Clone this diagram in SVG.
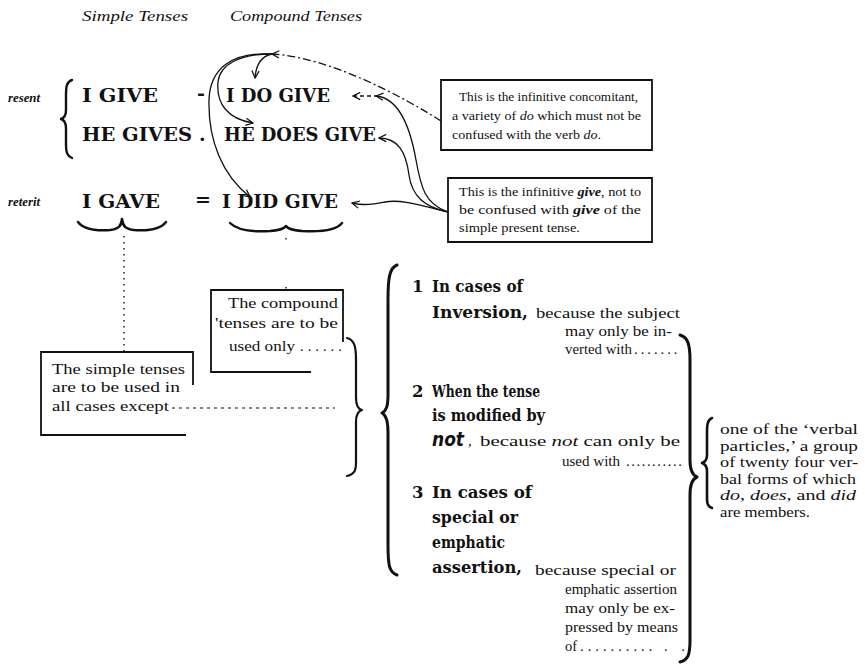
<svg xmlns="http://www.w3.org/2000/svg" width="865" height="664" viewBox="0 0 865 664">
  <defs>
    <marker id="tip" viewBox="0 0 10 10" refX="9" refY="5" markerWidth="9" markerHeight="9" markerUnits="userSpaceOnUse" orient="auto">
      <path d="M1,1 L9,5 L1,9" fill="none" stroke="#111" stroke-width="1.4"/>
    </marker>
  </defs>
  <style>
    .hand { font-family: "Liberation Serif", serif; font-style: italic; font-size: 15px; fill: #111; }
    .tag { font-family: "Liberation Serif", serif; font-style: italic; font-weight: bold; font-size: 12px; fill: #111; }
    .head { font-family: "DejaVu Serif", serif; font-weight: bold; font-size: 19px; fill: #111; }
    .item { font-family: "DejaVu Serif", serif; font-weight: bold; font-size: 16.5px; fill: #111; }
    .small { font-family: "Liberation Serif", serif; font-size: 14.5px; fill: #111; }
    .boxed { font-family: "Liberation Serif", serif; font-size: 13.5px; fill: #111; }
    .neg { font-family: "DejaVu Sans", sans-serif; font-style: italic; font-weight: bold; font-size: 19px; fill: #111; }
    .brace { fill: none; stroke: #111; stroke-linecap: round; stroke-linejoin: round; }
    .frame { fill: none; stroke: #111; stroke-width: 1.8; }
    .link { fill: none; stroke: #111; stroke-width: 1.3; marker-end: url(#tip); }
    .dots { fill: none; stroke: #111; stroke-width: 1.4; stroke-dasharray: 1.5 4.5; }
    .dash { fill: none; stroke: #111; stroke-width: 1.2; stroke-dasharray: 3 4; }
  </style>

  <rect width="865" height="664" fill="#fff"/>

  <!-- column headings -->
  <g id="headings">
    <text class="hand" x="82" y="21" textLength="106" lengthAdjust="spacingAndGlyphs">Simple Tenses</text>
    <text class="hand" x="230" y="21" textLength="132" lengthAdjust="spacingAndGlyphs">Compound Tenses</text>
  </g>

  <!-- present tense rows -->
  <g id="present">
    <text class="tag" x="8" y="102" textLength="32" lengthAdjust="spacingAndGlyphs">resent</text>
    <path class="brace" stroke-width="2.4" d="M72,80 C66,82 66,88 66,96 L66,110 C66,116 64,118 61,119 C64,120 66,122 66,128 L66,145 C66,152 67,156 72,158"/>
    <text class="head" x="82" y="102" textLength="76" lengthAdjust="spacingAndGlyphs">I GIVE</text>
    <text class="head" x="197" y="100" font-size="12">-</text>
    <text class="head" x="226" y="102" textLength="104" lengthAdjust="spacingAndGlyphs">I DO GIVE</text>
    <text class="head" x="82" y="141" textLength="110" lengthAdjust="spacingAndGlyphs">HE GIVES</text>
    <text class="head" x="199" y="141" font-size="12">.</text>
    <text class="head" x="224" y="141" textLength="152" lengthAdjust="spacingAndGlyphs">HE DOES GIVE</text>
  </g>

  <!-- preterit row -->
  <g id="preterit">
    <text class="tag" x="8" y="206" textLength="32" lengthAdjust="spacingAndGlyphs">reterit</text>
    <text class="head" x="82" y="208" textLength="78" lengthAdjust="spacingAndGlyphs">I GAVE</text>
    <text class="head" x="195" y="206" font-size="11">=</text>
    <text class="head" x="222" y="208" textLength="116" lengthAdjust="spacingAndGlyphs">I DID GIVE</text>
    <path class="brace" stroke-width="2.6" d="M78,222 C84,230 96,231 110,230 C118,229 121,227 122,219 C123,227 126,229 134,230 C148,231 160,230 166,222"/>
    <path class="brace" stroke-width="2.4" d="M230,223 C238,231 254,232 270,231 C280,230 284,229 286,226 C288,229 292,230 302,231 C320,232 336,231 342,223"/>
  </g>

  <!-- note on "do" -->
  <g id="note-do">
    <path class="frame" d="M441,80 H652 V150 H441 Z"/>
    <text class="boxed" x="459" y="101" textLength="179" lengthAdjust="spacingAndGlyphs">This is the infinitive concomitant,</text>
    <text class="boxed" x="452" y="120" textLength="189" lengthAdjust="spacingAndGlyphs">a variety of <tspan font-style="italic">do</tspan> which must not be</text>
    <text class="boxed" x="452" y="139" textLength="149" lengthAdjust="spacingAndGlyphs">confused with the verb <tspan font-style="italic">do</tspan>.</text>
  </g>

  <!-- note on "give" -->
  <g id="note-give">
    <path class="frame" d="M448,178 H652 V242 H448 Z"/>
    <text class="boxed" x="459" y="196" textLength="182" lengthAdjust="spacingAndGlyphs">This is the infinitive <tspan font-style="italic" font-weight="bold">give</tspan>, not to</text>
    <text class="boxed" x="459" y="214" textLength="182" lengthAdjust="spacingAndGlyphs">be confused with <tspan font-style="italic" font-weight="bold">give</tspan> of the</text>
    <text class="boxed" x="459" y="232" textLength="121" lengthAdjust="spacingAndGlyphs">simple present tense.</text>
  </g>

  <!-- usage of compound tenses -->
  <g id="compound-use">
    <path class="frame" d="M311,372 H211 V290 H343 V342"/>
    <text class="small" x="228" y="308" textLength="110" lengthAdjust="spacingAndGlyphs">The compound</text>
    <text class="small" x="215" y="328" textLength="123" lengthAdjust="spacingAndGlyphs">'tenses are to be</text>
    <text class="small" x="229" y="351"><tspan textLength="66" lengthAdjust="spacingAndGlyphs">used only</tspan><tspan x="300" letter-spacing="4">......</tspan></text>
  </g>

  <!-- usage of simple tenses -->
  <g id="simple-use">
    <path class="frame" d="M193,385 V352 H41 V435 H186"/>
    <text class="small" x="52" y="374" textLength="133" lengthAdjust="spacingAndGlyphs">The simple tenses</text>
    <text class="small" x="52" y="392" textLength="128" lengthAdjust="spacingAndGlyphs">are to be used in</text>
    <text class="small" x="52" y="411" textLength="117" lengthAdjust="spacingAndGlyphs">all cases except</text>
  </g>

  <!-- the three cases -->
  <g id="cases">
    <path class="brace" stroke-width="3" d="M397,265 C389,268 388,280 388,300 L388,395 C388,407 386,411 382,413 C386,415 388,420 388,432 L388,545 C388,565 389,572 397,575"/>

    <text class="item" x="412" y="292">1</text>
    <text class="item" x="432" y="292" textLength="91" lengthAdjust="spacingAndGlyphs">In cases of</text>
    <text class="item" x="432" y="318" textLength="96" lengthAdjust="spacingAndGlyphs">Inversion,</text>
    <text class="small" x="536" y="318" textLength="144" lengthAdjust="spacingAndGlyphs">because the subject</text>
    <text class="small" x="565" y="336" textLength="107" lengthAdjust="spacingAndGlyphs">may only be in-</text>
    <text class="small" x="565" y="354"><tspan textLength="67" lengthAdjust="spacingAndGlyphs">verted with</tspan><tspan x="634" letter-spacing="3">.......</tspan></text>

    <text class="item" x="412" y="397">2</text>
    <text class="item" x="432" y="397" textLength="108" lengthAdjust="spacingAndGlyphs">When the tense</text>
    <text class="item" x="432" y="421" textLength="113" lengthAdjust="spacingAndGlyphs">is modified by</text>
    <text class="neg" x="432" y="446" textLength="32" lengthAdjust="spacingAndGlyphs">not</text>
    <text class="small" x="468" y="446">,</text>
    <text class="small" x="480" y="446" textLength="200" lengthAdjust="spacingAndGlyphs">because <tspan font-style="italic">not</tspan> can only be</text>
    <text class="small" x="562" y="466"><tspan textLength="58" lengthAdjust="spacingAndGlyphs">used with</tspan><tspan x="626" letter-spacing="1.6">...........</tspan></text>

    <text class="item" x="412" y="498">3</text>
    <text class="item" x="432" y="498" textLength="100" lengthAdjust="spacingAndGlyphs">In cases of</text>
    <text class="item" x="432" y="523" textLength="86" lengthAdjust="spacingAndGlyphs">special or</text>
    <text class="item" x="432" y="548" textLength="73" lengthAdjust="spacingAndGlyphs">emphatic</text>
    <text class="item" x="432" y="573" textLength="90" lengthAdjust="spacingAndGlyphs">assertion,</text>
    <text class="small" x="535" y="575" textLength="141" lengthAdjust="spacingAndGlyphs">because special or</text>
    <text class="small" x="565" y="594" textLength="112" lengthAdjust="spacingAndGlyphs">emphatic assertion</text>
    <text class="small" x="565" y="613" textLength="110" lengthAdjust="spacingAndGlyphs">may only be ex-</text>
    <text class="small" x="565" y="632" textLength="113" lengthAdjust="spacingAndGlyphs">pressed by means</text>
    <text class="small" x="565" y="651">of<tspan x="580" letter-spacing="4">..........</tspan><tspan x="664" letter-spacing="5">. .</tspan></text>
  </g>

  <!-- the verbal particles -->
  <g id="particles">
    <path class="brace" stroke-width="3" d="M680,335 C688,337 690,345 690,360 L690,460 C690,470 692,475 697,477 C692,479 690,484 690,495 L690,640 C690,655 688,660 680,662"/>
    <path class="brace" stroke-width="2.6" d="M712,418 C707,420 707,426 707,434 L707,455 C707,460 705,462 702,463 C705,464 707,466 707,471 L707,496 C707,503 707,506 712,508"/>
    <text class="small" x="720" y="434" textLength="138" lengthAdjust="spacingAndGlyphs">one of the ‘verbal</text>
    <text class="small" x="720" y="451" textLength="138" lengthAdjust="spacingAndGlyphs">particles,’ a group</text>
    <text class="small" x="720" y="467" textLength="138" lengthAdjust="spacingAndGlyphs">of twenty four ver-</text>
    <text class="small" x="720" y="484" textLength="136" lengthAdjust="spacingAndGlyphs">bal forms of which</text>
    <text class="small" x="720" y="500" textLength="136" lengthAdjust="spacingAndGlyphs"><tspan font-style="italic">do</tspan>, <tspan font-style="italic">does</tspan>, and <tspan font-style="italic">did</tspan></text>
    <text class="small" x="720" y="517" textLength="90" lengthAdjust="spacingAndGlyphs">are members.</text>
  </g>

  <!-- connectors -->
  <g id="connectors">
    <!-- brace to the two usage notes -->
    <path class="brace" stroke-width="2.2" d="M347,338 C355,340 356,348 356,360 L356,398 C356,405 358,409 362,410 C358,411 356,415 356,422 L356,462 C356,470 355,474 347,476"/>
    <path class="dots" d="M124,236 V352"/>
    <path class="dots" d="M286,238 V242"/>
    <path class="dots" d="M286,287 V290"/>
    <path class="dash" d="M172,408 H335"/>

    <!-- do: from the note to DO, DOES and DID -->
    <path class="link" stroke-dasharray="8 3 2 3" marker-end="none" d="M441,121 C405,98 330,57 272,54"/>
    <path class="link" d="M272,54 C262,56 256,64 255,78"/>
    <path class="link" d="M272,54 C240,54 220,64 218,82 C216,104 228,119 253,123"/>
    <path class="link" d="M272,54 C232,52 210,68 209,100 C208,140 222,175 250,197"/>

    <!-- give: from the note to each GIVE -->
    <path class="link" d="M448,212 C425,204 421,188 416,160 C410,126 398,98 376,96"/>
    <path class="link" stroke-dasharray="4 3" d="M378,96 L353,96"/>
    <path class="link" d="M448,212 C424,207 412,196 409,175 C406,152 398,138 379,138"/>
    <path class="link" d="M448,212 C420,205 400,199 385,202 C374,204 365,206 352,203"/>
  </g>
</svg>
